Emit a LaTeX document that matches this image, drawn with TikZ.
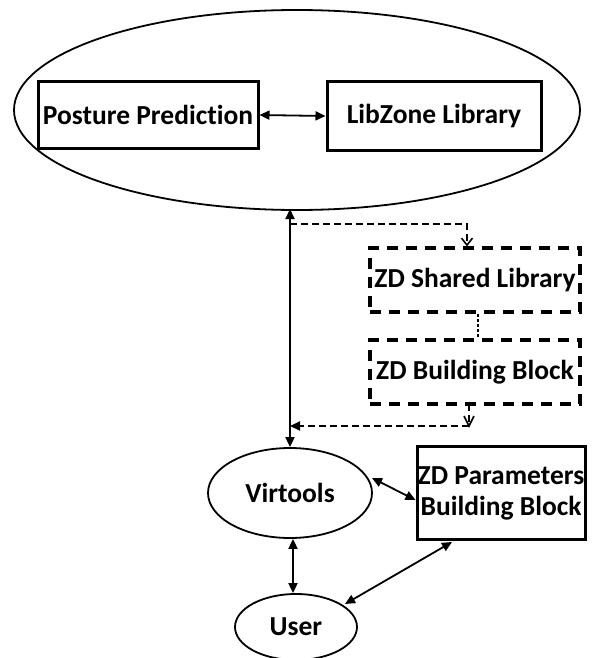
\documentclass[tikz,border=0pt]{standalone}
\usepackage{fontspec}
\setmainfont{Carlito}[Ligatures={NoCommon}]
\usetikzlibrary{arrows.meta,shapes.geometric,calc}
\begin{document}
\begin{tikzpicture}[x=1pt,y=-1pt,
  lbl/.style={font=\fontsize{27.5}{31}\selectfont\bfseries},
  solidbox/.style={draw,line width=3pt,rectangle,inner sep=0pt,lbl},
  dbox/.style={draw,line width=3.2pt,dash pattern=on 11pt off 8pt,rectangle,inner sep=0pt,lbl},
  ell/.style={draw,ellipse,line width=1.8pt,inner sep=0pt,lbl},
  biarrow/.style={line width=1.8pt,{Triangle[length=10pt,width=9pt]}-{Triangle[length=10pt,width=9pt]}},
  dline/.style={line width=1.9pt,dash pattern=on 7pt off 4pt},
  vtip/.style={-{Straight Barb[length=7pt,width=11pt,line width=1.6pt]}}
]
\useasboundingbox (0,0) rectangle (604,658);
\node[ell,minimum width=566pt,minimum height=200pt] (outer) at (297,110) {};
\node[solidbox,minimum width=220pt,minimum height=66pt] (pp) at (148,115) {Posture Prediction};
\node[solidbox,minimum width=214pt,minimum height=68pt] (lz) at (434,116) {LibZone Library};
\draw[biarrow] (pp.east) -- (lz.west);

\node[dbox,minimum width=210pt,minimum height=64pt] (zsl) at (475,280) {ZD Shared Library};
\node[dbox,minimum width=210pt,minimum height=64pt] (zbb) at (475,372) {ZD Building Block};
\draw[line width=1.3pt,dash pattern=on 3pt off 2pt] (zsl.south -| 478,0) -- (zbb.north -| 478,0);

\node[ell,minimum width=164pt,minimum height=90pt] (virt) at (290,493) {Virtools};
\node[solidbox,minimum width=168pt,minimum height=93pt,align=center] (zdp) at (501,493) {ZD Parameters\\Building Block};
\node[ell,minimum width=122pt,minimum height=66pt] (user) at (296,627) {User};

\coordinate (top) at (290,209);
\draw[biarrow] (top) -- (virt.north);

\coordinate (d1) at (290,224);
\coordinate (d2) at (467,224);
\draw[dline,vtip] (d1) -- (d2) -- (d2 |- zsl.north);

\coordinate (d3) at (469,404);
\coordinate (d4) at (469,426);
\coordinate (d5) at (290,426);
\draw[dline] (d3) -- (d4);
\draw[line width=1.6pt] ($(d4)+(-5,-10)$) -- (d4) -- ($(d4)+(5,-10)$);
\draw[dline,-{Triangle[length=10pt,width=9pt]}] (d4) -- (d5);

\coordinate (va) at (372,478);
\draw[biarrow] (va) -- (zdp.west |- 0,500);
\draw[biarrow] (virt.south -| 293,0) -- (user.north -| 293,0);
\coordinate (ua) at (452,542);
\coordinate (ub) at (345,604);
\draw[biarrow] (ua) -- (ub);
\end{tikzpicture}
\end{document}
